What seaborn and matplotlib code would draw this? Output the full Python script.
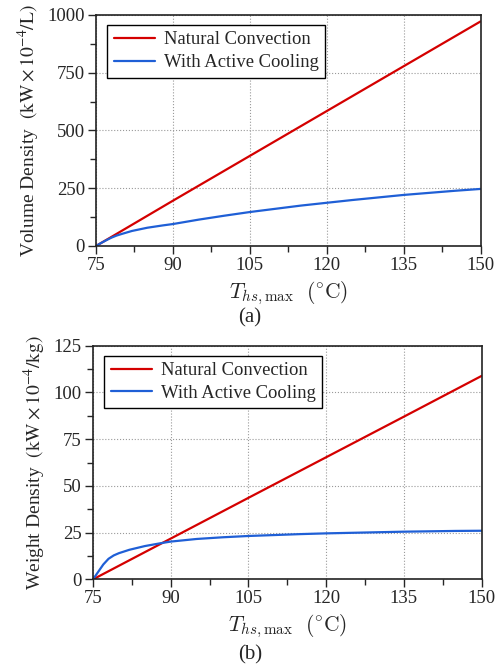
import numpy as np
import pandas as pd
import matplotlib
matplotlib.use("Agg")
import matplotlib.pyplot as plt
from matplotlib.ticker import MultipleLocator
import seaborn as sns

sns.set_style("ticks")
plt.rcParams['font.family'] = ['Liberation Serif', 'DejaVu Serif']
plt.rcParams['mathtext.fontset'] = 'stix'

# ---- data ----
temp_nat = [75, 90, 105, 120, 135, 150]
vol_nat = [0, 196, 390, 584, 778, 972]
wt_nat = [0, 21.8, 43.6, 65.3, 87.0, 108.8]

temp_act = [75, 76, 77, 78, 79, 80, 82, 85, 88, 90, 95, 100, 105, 110, 115, 120, 125, 130, 135, 140, 145, 150]
vol_act = [0, 13, 25, 36, 45, 52, 65, 79, 89, 95, 114, 131, 147, 161, 175, 187, 199, 210, 221, 230, 239, 247]
wt_act = [0, 4.0, 8.0, 11.0, 12.8, 14.0, 15.8, 17.8, 19.3, 20.2, 21.6, 22.5, 23.2, 23.7, 24.2, 24.6, 24.9, 25.2, 25.5, 25.7, 25.9, 26.0]

series_names = ["Natural Convection", "With Active Cooling"]
colors = {"Natural Convection": "#d40000", "With Active Cooling": "#1f5fd6"}

df_vol = pd.concat([
    pd.DataFrame({"T": temp_nat, "v": vol_nat, "s": series_names[0]}),
    pd.DataFrame({"T": temp_act, "v": vol_act, "s": series_names[1]}),
])
df_wt = pd.concat([
    pd.DataFrame({"T": temp_nat, "v": wt_nat, "s": series_names[0]}),
    pd.DataFrame({"T": temp_act, "v": wt_act, "s": series_names[1]}),
])

fig = plt.figure(figsize=(5, 6.69), dpi=100)
ax1 = fig.add_axes([0.192, 0.6323, 0.769, 0.3453])
ax2 = fig.add_axes([0.186, 0.134, 0.777, 0.3493])

xlab = r"$T_{hs,\max}\ \ (^{\circ}\mathrm{C})$"
fs = 13.5

def style(ax, df, ymax, ymaj, ylabel):
    sns.lineplot(data=df, x="T", y="v", hue="s", palette=colors, ax=ax,
                 linewidth=1.6, sort=True, estimator=None)
    ax.set_xlim(75, 150)
    ax.set_ylim(0, ymax)
    ax.xaxis.set_major_locator(MultipleLocator(15))
    ax.xaxis.set_minor_locator(MultipleLocator(7.5))
    ax.yaxis.set_major_locator(MultipleLocator(ymaj))
    ax.yaxis.set_minor_locator(MultipleLocator(ymaj / 2))
    ax.grid(True, which="major", linestyle=":", color="#9a9a9a", linewidth=0.8)
    ax.tick_params(which="major", direction="out", length=6, width=1, labelsize=fs, pad=2)
    ax.tick_params(which="minor", direction="out", length=4, width=1)
    for sp in ax.spines.values():
        sp.set_linewidth(1.2)
        sp.set_color("#222222")
    xl = ax.set_xlabel(xlab, fontsize=15.5, labelpad=4)
    xl.set_math_fontfamily("cm")
    ax.set_ylabel(ylabel, fontsize=14, labelpad=4)
    leg = ax.legend(loc="upper left", fontsize=13.4, frameon=True, fancybox=False,
                    edgecolor="black", framealpha=1, borderpad=0.35, handlelength=2.2,
                    handletextpad=0.5, labelspacing=0.3,
                    bbox_to_anchor=(0.029, 0.957), borderaxespad=0)
    leg.get_frame().set_linewidth(1.0)
    leg.set_title(None)

style(ax1, df_vol, 1000, 250, r"Volume Density  $(\mathrm{kW}\times10^{-4}/\mathrm{L})$")
style(ax2, df_wt, 125, 25, r"Weight Density  $(\mathrm{kW}\times10^{-4}/\mathrm{kg})$")

fig.text(0.5, 1 - 318 / 669, "(a)", ha="center", va="center", fontsize=15)
fig.text(0.5, 1 - 655 / 669, "(b)", ha="center", va="center", fontsize=15)

fig.savefig("out.png", dpi=100)
